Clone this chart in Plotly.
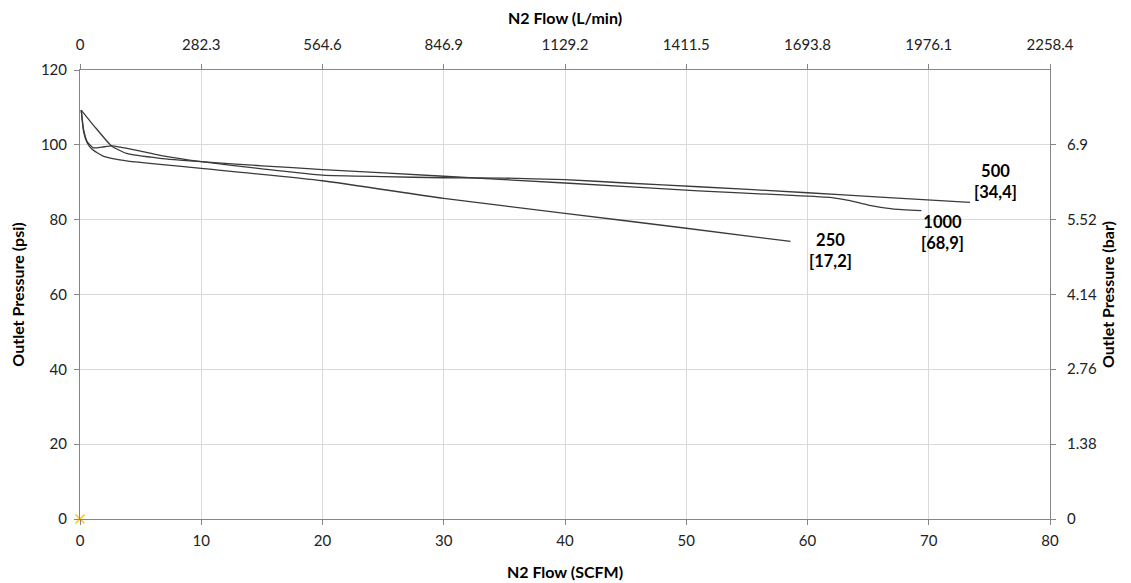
import plotly.graph_objects as go

# SCFM flow vs outlet pressure (psi)
flow_250 = [0.1, 0.3, 0.6, 1.0, 1.9, 3.85, 6.6, 10, 20, 30, 40, 50, 58.6]
psi_250 = [109.3, 103.5, 100.5, 98.8, 97.0, 95.7, 94.8, 93.7, 90.4, 85.7, 81.7, 77.7, 74.2]

flow_500 = [0.1, 0.3, 0.6, 1.1, 1.8, 2.6, 3.3, 5, 6.6, 10, 15, 20, 25, 30, 35, 40, 45, 51, 60, 66, 73.4]
psi_500 = [109.3, 104.0, 100.8, 99.2, 99.4, 99.7, 99.4, 98.3, 97.2, 95.5, 93.6, 91.9, 91.5, 91.2, 91.1, 90.7, 89.8, 88.8, 87.2, 86.0, 84.6]

flow_1000 = [0.1, 1.3, 2.6, 3.85, 6.6, 10, 15, 20, 30, 40, 51, 58, 62, 63.5, 65, 67, 69.4]
psi_1000 = [109.3, 104.5, 99.7, 97.7, 96.4, 95.5, 94.4, 93.4, 91.6, 89.8, 87.7, 86.6, 85.9, 85.1, 83.9, 82.9, 82.4]

x_ticks = [0, 10, 20, 30, 40, 50, 60, 70, 80]
y_ticks = [0, 20, 40, 60, 80, 100, 120]
lmin_ticks = [0, 282.3, 564.6, 846.9, 1129.2, 1411.5, 1693.8, 1976.1, 2258.4]
bar_ticks = [0, 1.38, 2.76, 4.14, 5.52, 6.9]

labels = [("500<br>[34,4]", 75.5, 90.2), ("1000<br>[68,9]", 71.1, 76.7), ("250<br>[17,2]", 61.9, 71.8)]

FONT = "Lato, 'Open Sans', sans-serif"
line_col = "#3a3a3a"
grid_col = "#d9d9d9"
axis_col = "#868686"

fig = go.Figure()
for fx, py in [(flow_250, psi_250), (flow_500, psi_500), (flow_1000, psi_1000)]:
    fig.add_trace(go.Scatter(x=fx, y=py, mode="lines", xaxis="x", yaxis="y",
                             line=dict(color=line_col, width=1.3, shape="spline", smoothing=0.5),
                             showlegend=False, hoverinfo="x+y"))

fig.add_trace(go.Scatter(x=[0], y=[0], mode="markers", xaxis="x2", yaxis="y2", cliponaxis=False,
                         marker=dict(symbol="x-thin-open", size=9, color="#FFC000",
                                     line=dict(color="#FFC000", width=1.3)),
                         showlegend=False))

for txt, xx, yy in labels:
    fig.add_annotation(x=xx, y=yy, xref="x", yref="y", text=f"<b>{txt}</b>", showarrow=False,
                       font=dict(family=FONT, size=16.5, color="#000"), align="center")

axis_common = dict(showline=True, linecolor=axis_col, linewidth=1, ticks="outside",
                   tickcolor=axis_col, ticklen=5, zeroline=False, automargin=False,
                   tickfont=dict(family=FONT, size=15, color="#222"))
TFONT = dict(family=FONT, size=16, color="#000")

fig.update_layout(
    width=1123, height=575,
    margin=dict(l=72, r=81, t=62, b=64),
    paper_bgcolor="white", plot_bgcolor="white",
    xaxis=dict(range=[0, 80], tickvals=x_ticks, showgrid=True, gridcolor=grid_col, gridwidth=1,
               ticklabelstandoff=3,
               title=dict(text="<b>N2 Flow (SCFM)</b>", font=TFONT, standoff=18),
               **axis_common),
    xaxis2=dict(range=[0, 2258.4], tickvals=lmin_ticks, ticktext=[f"{v:g}" for v in lmin_ticks],
                overlaying="x", side="top", showgrid=False, ticklabelstandoff=8,
                title=dict(text="<b>N2 Flow (L/min)</b>", font=TFONT, standoff=12),
                **axis_common),
    yaxis=dict(range=[0, 120], tickvals=y_ticks, showgrid=True, gridcolor=grid_col, gridwidth=1,
               ticklabelstandoff=4,
               title=dict(text="<b>Outlet Pressure (psi)</b>", font=TFONT, standoff=14),
               **axis_common),
    yaxis2=dict(range=[0, 120 * 0.0689476], tickvals=bar_ticks, ticktext=[f"{v:g}" for v in bar_ticks],
                overlaying="y", side="right", showgrid=False, ticklabelstandoff=8,
                title=dict(text="<b>Outlet Pressure (bar)</b>", font=TFONT, standoff=6),
                **axis_common),
)

fig.write_html("out.html")
